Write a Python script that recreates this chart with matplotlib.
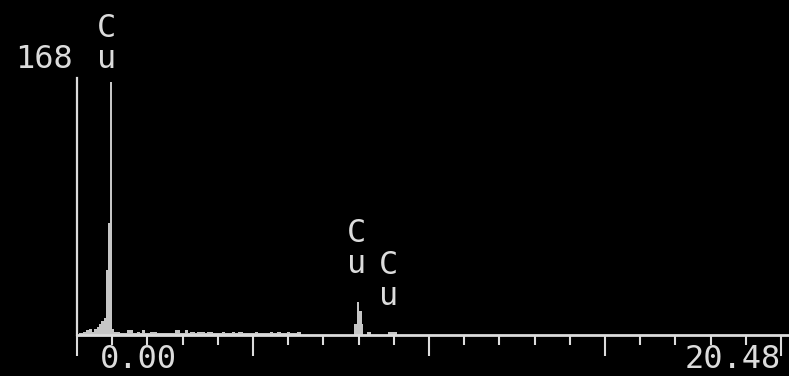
import matplotlib
matplotlib.use("Agg")
import matplotlib.pyplot as plt
from matplotlib.ticker import MultipleLocator

# EDS spectrum: bin edges (keV) and counts per bin
edges_kev = [0.06, 0.17, 0.26, 0.34, 0.43, 0.48, 0.57, 0.63, 0.68, 0.77,
             0.82, 0.89, 0.95, 0.99, 1.05, 1.22, 1.42, 1.59, 1.70, 1.79,
             1.85, 1.93, 2.07, 2.27, 2.36, 2.73, 2.78, 2.93, 3.07, 3.15,
             3.21, 3.35, 3.41, 3.64, 3.69, 3.86, 4.12, 4.20, 4.40, 4.49,
             4.57, 4.72, 5.06, 5.14, 5.48, 5.57, 5.68, 5.80, 5.97, 6.05,
             6.25, 6.36, 7.87, 7.95, 8.02, 8.09, 8.13, 8.23, 8.35, 8.84,
             9.09]
counts = [1, 2, 3, 4, 2, 4, 5, 7, 9,
          11, 43, 74, 167, 4, 2, 1, 3, 1, 2,
          1, 3, 1, 2, 1, 1, 1, 3, 1, 3,
          1, 2, 1, 2, 1, 2, 1, 2, 1, 2,
          1, 2, 1, 2, 1, 2, 1, 2, 1, 2,
          1, 2, 0, 7, 22, 16, 7, 0, 2, 0,
          2]

# Peak identifications: (label, energy keV, label baseline in counts)
peak_labels = ["C\nu", "C\nu", "C\nu"]
peak_energy = [0.85, 7.95, 8.84]
peak_label_y = [176, 41, 20]

full_scale = 168
range_start = "0.00"
range_end = "20.48"

fg = "#dcdcdc"
fill = "#c6c6c6"
mono = "DejaVu Sans Mono"

W, H = 789, 376
fig = plt.figure(figsize=(W / 100, H / 100), dpi=100, facecolor="black")
ax = fig.add_axes([77 / W, 41 / H, 712 / W, 257 / H], facecolor="black")

ax.stairs(counts, edges_kev, fill=True, color=fill, linewidth=0)

ax.set_xlim(0, 712 / 35.2)
ax.set_ylim(0, full_scale * 257 / 255)

for side in ("top", "right"):
    ax.spines[side].set_visible(False)
ax.spines["bottom"].set_color(fg)
ax.spines["bottom"].set_linewidth(2.0)
ax.spines["left"].set_color(fg)
ax.spines["left"].set_linewidth(1.6)

ax.xaxis.set_major_locator(MultipleLocator(5))
ax.xaxis.set_minor_locator(MultipleLocator(1))
ax.tick_params(axis="x", which="major", direction="out", length=15,
               width=1.5, color=fg, labelbottom=False)
ax.tick_params(axis="x", which="minor", direction="out", length=7.5,
               width=1.5, color=fg)
ax.set_yticks([])

for lab, e, y in zip(peak_labels, peak_energy, peak_label_y):
    ax.text(e, y, lab, ha="center", va="baseline", color=fg,
            family=mono, fontsize=23, linespacing=1.0, clip_on=False)

fig.text(73 / W, 1 - 68 / H, str(full_scale), ha="right", va="baseline",
         color=fg, family=mono, fontsize=23)
fig.text(100 / W, 1 - 368 / H, range_start, ha="left", va="baseline",
         color=fg, family=mono, fontsize=23)
fig.text(685 / W, 1 - 368 / H, range_end, ha="left", va="baseline",
         color=fg, family=mono, fontsize=23)

fig.savefig("out.png", dpi=100, facecolor="black")
